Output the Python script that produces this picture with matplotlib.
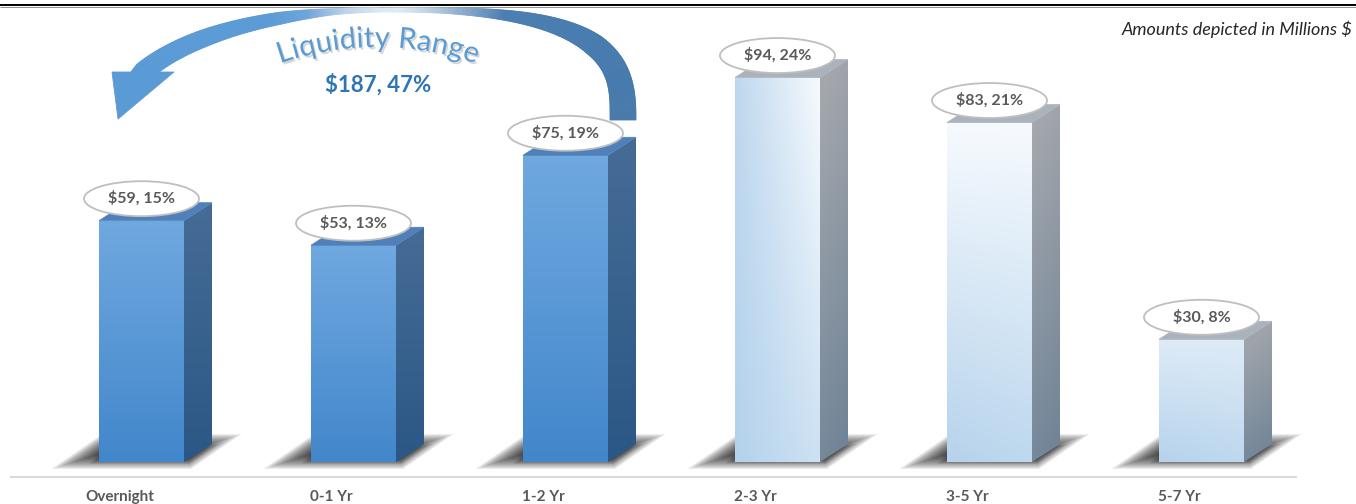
import numpy as np
import matplotlib
matplotlib.use("Agg")
import matplotlib.pyplot as plt
from matplotlib.patches import Polygon, Ellipse
from matplotlib.collections import PolyCollection
from matplotlib.transforms import Affine2D
from matplotlib import patheffects as pe
from matplotlib.textpath import TextToPath
from matplotlib.font_manager import FontProperties

# ---------------- data ----------------
categories = ["Overnight", "0-1 Yr", "1-2 Yr", "2-3 Yr", "3-5 Yr", "5-7 Yr"]
amounts = [59, 53, 75, 94, 83, 30]            # $ millions
shares = [15, 13, 19, 24, 21, 8]              # percent of total
in_liquidity_range = [True, True, True, False, False, False]
liquidity_label = "Liquidity Range"
liquidity_amount = 187
liquidity_share = 47
note = "Amounts depicted in Millions $"

plt.rcParams['font.family'] = ['Lato', 'DejaVu Sans']

W, H, DPI = 1356, 504, 100
fig = plt.figure(figsize=(W / DPI, H / DPI), dpi=DPI)
fig.patch.set_facecolor('white')

CAT_PX = 212.0      # pixels per category
UNIT_PX = 4.09      # pixels per $1M
FIRST_PX = 141.5    # centre of first bar (px)
BASE_PX = 462.0     # baseline (px from top)

ax = fig.add_axes([0, 0, 1, 1])
XLIM = (-FIRST_PX / CAT_PX, (W - FIRST_PX) / CAT_PX)
YLIM = (-(H - BASE_PX) / UNIT_PX, BASE_PX / UNIT_PX)
ax.set_xlim(*XLIM)
ax.set_ylim(*YLIM)
ax.set_autoscale_on(False)
ax.axis('off')


def fx(px):
    return px / CAT_PX


def fy(px):
    return px / UNIT_PX


# pixel transform (origin top-left, y down)
PIX = Affine2D().scale(1 / DPI, -1 / DPI).translate(0, H / DPI) + fig.dpi_scale_trans


def c255(c):
    return tuple(v / 255 for v in c)


def gradient_fill(patch, xs, ys, tl, tr, bl, br, z):
    n = 80
    u = np.linspace(0, 1, n)[None, :, None]
    v = np.linspace(0, 1, n)[:, None, None]
    tl, tr, bl, br = [np.array(c) / 255 for c in (tl, tr, bl, br)]
    img = (1 - v) * ((1 - u) * tl + u * tr) + v * ((1 - u) * bl + u * br)
    im = ax.imshow(img, extent=[min(xs), max(xs), min(ys), max(ys)], origin='upper',
                   aspect='auto', interpolation='bilinear', zorder=z)
    im.set_clip_path(patch)
    return im


def inset_polygon(poly, delta):
    """Offset a convex polygon (pixel coords) inward by delta px."""
    poly = np.asarray(poly, float)
    n = len(poly)
    area = 0.5 * sum(poly[k, 0] * poly[(k + 1) % n, 1] - poly[(k + 1) % n, 0] * poly[k, 1] for k in range(n))
    sgn = 1.0 if area > 0 else -1.0
    normals, offs = [], []
    for k in range(n):
        p, q = poly[k], poly[(k + 1) % n]
        t = q - p
        nrm = sgn * np.array([-t[1], t[0]]) / np.hypot(*t)
        normals.append(nrm)
        offs.append(nrm @ p + delta)
    out = []
    for k in range(n):
        A = np.array([normals[k - 1], normals[k]])
        bvec = np.array([offs[k - 1], offs[k]])
        out.append(np.linalg.solve(A, bvec))
    out = np.array(out)
    a2 = 0.5 * sum(out[k, 0] * out[(k + 1) % n, 1] - out[(k + 1) % n, 0] * out[k, 1] for k in range(n))
    if a2 * area <= 0:
        return None
    return out


def shadow(x0d, x1d, z):
    # geometry in pixel coords (y down), derived from the bar's data position
    x0 = FIRST_PX + x0d * CAT_PX
    x1 = FIRST_PX + x1d * CAT_PX
    yb = BASE_PX
    main = [(x0 - 38, yb + 4), (x1 + 6, yb + 4), (x1 + 48, yb - 25), (x0 + 4, yb - 25)]
    for d in np.arange(-3, 14, 1.0):
        p = inset_polygon(main, d)
        if p is None:
            break
        ax.add_patch(Polygon(p, closed=True, transform=PIX,
                             fc='black', ec='none', alpha=0.075, zorder=z))
    # darker core right behind the bar
    core = [(x0 - 10, yb + 2), (x1 + 6, yb + 2), (x1 + 36, yb - 18), (x0 + 10, yb - 18)]
    for d in np.arange(0, 6, 1.0):
        p = inset_polygon(core, d)
        if p is None:
            break
        ax.add_patch(Polygon(p, closed=True, transform=PIX,
                             fc='black', ec='none', alpha=0.07, zorder=z))


x = np.arange(len(categories))
BW = fx(85)
DX, DY = fx(28), fy(18)
bars = ax.bar(x, amounts, width=BW, color='none', edgecolor='none', zorder=4)

light_fronts = {
    3: ((190, 215, 238), (246, 250, 254), (180, 210, 236), (205, 225, 243)),
    4: ((246, 250, 254), (246, 250, 254), (182, 211, 236), (190, 216, 238)),
    5: ((222, 235, 247), (222, 235, 247), (182, 211, 236), (190, 216, 238)),
}

for i, (rect, liq) in enumerate(zip(bars, in_liquidity_range)):
    xl = rect.get_x()
    xr = xl + rect.get_width()
    top = rect.get_height()
    shadow(xl, xr, 2)
    if liq:
        front = ((112, 168, 224), (112, 168, 224), (66, 135, 203), (66, 135, 203))
        side_c = ((70, 108, 150), (70, 108, 150), (43, 87, 134), (43, 87, 134))
        top_c = (80, 128, 186)
    else:
        front = light_fronts[i]
        side_c = ((168, 171, 175), (160, 164, 170), (118, 136, 154), (110, 130, 150))
        top_c = (170, 178, 188)
    gradient_fill(rect, [xl, xr], [0, top], *front, z=4)
    side = Polygon([(xr, 0), (xr + DX, DY), (xr + DX, top + DY), (xr, top)], closed=True,
                   fc='none', ec='none', zorder=4)
    ax.add_patch(side)
    gradient_fill(side, [xr, xr + DX], [0, top + DY], *side_c, z=4)
    topf = Polygon([(xl, top), (xr, top), (xr + DX, top + DY), (xl + DX, top + DY)], closed=True,
                   fc=c255(top_c), ec=c255(top_c), lw=0.5, zorder=4)
    ax.add_patch(topf)

    # data label bubble
    cyl = top + fy(22)
    ax.add_patch(Ellipse((x[i], cyl), width=fx(115), height=fy(35), fc='white',
                         ec=c255((191, 191, 191)), lw=1.3, zorder=6))
    ax.text(x[i], cyl, f"${amounts[i]}, {shares[i]}%", ha='center', va='center',
            fontsize=11.5, fontweight='bold', color='#595959', zorder=7)

    # category label
    ax.text(x[i] - fx(22), -fy(35), categories[i], ha='center', va='center',
            fontsize=11, fontweight='bold', color='#595959', zorder=7)

# baseline and top border
ax.plot([10, 1297], [477, 477], transform=PIX, color=c255((217, 217, 217)), lw=1.5,
        solid_capstyle='butt', zorder=1)
ax.plot([0, W], [4.8, 4.8], transform=PIX, color='black', lw=1.4, solid_capstyle='butt', zorder=1)
ax.plot([0, W], [6.6, 6.6], transform=PIX, color='#909090', lw=0.7, solid_capstyle='butt', zorder=1)

# note
ax.text(1352, 29, note, transform=PIX, ha='right', va='center', fontsize=13,
        style='italic', color='#262626')

# ---------------- curved arrow ----------------
th = np.linspace(0.0, 2.80, 420)
cxa, cya, b = 380.0, 120.0, 110.0
c, s = np.cos(th), np.sin(th)
xs = np.where(c >= 0, cxa + 243 * np.abs(c) ** (2 / 3), cxa + 263 * c)
ys = np.where(c >= 0, cya - b * np.abs(s) ** (2 / 3), cya - b * s)
wt = np.interp(th, [0, 0.6, 1.1, 1.45, 1.57, 1.75, 1.96, 2.3, 2.69, 2.8],
               [26, 22, 12, 5, 4, 6, 12, 17, 20, 14])
tx, ty = np.gradient(xs), np.gradient(ys)
nn = np.hypot(tx, ty)
nx, ny = -ty / nn, tx / nn
ox, oy = xs + nx * wt / 2, ys + ny * wt / 2
ix, iy = xs - nx * wt / 2, ys - ny * wt / 2
stops_t = [0.0, 1.2, 1.4, 1.55, 1.7, 1.85, 2.0, 2.8]
stops_c = [(72, 122, 172), (74, 126, 177), (150, 180, 210), (225, 235, 245),
           (190, 212, 235), (110, 165, 218), (91, 155, 213), (91, 155, 213)]
cols = np.array([[np.interp(t, stops_t, [sc[k] for sc in stops_c]) for k in range(3)] for t in th]) / 255
quads, qc = [], []
for k in range(len(th) - 1):
    quads.append([(ox[k], oy[k]), (ox[k + 1], oy[k + 1]), (ix[k + 1], iy[k + 1]), (ix[k], iy[k])])
    qc.append(cols[k])
pc = PolyCollection(quads, facecolors=qc, edgecolors=qc, linewidths=0.6, transform=PIX, zorder=5)
ax.add_collection(pc)
ax.add_patch(Polygon([(112, 72), (174, 72), (118, 119)], closed=True, transform=PIX,
                     fc=c255((91, 155, 213)), ec=c255((91, 155, 213)), lw=0.6, zorder=5))

# ---------------- curved "Liquidity Range" ----------------
fp = FontProperties(family=['Lato', 'DejaVu Sans'], size=21)
ttp = TextToPath()


def wpx(txt):
    return ttp.get_text_width_height_descent(txt, fp, ismath=False)[0] * DPI / 72


base_w = wpx("I")
starts = [wpx(liquidity_label[:k] + "I") - base_w for k in range(len(liquidity_label) + 1)]
total = starts[-1]
scale = 200.0 / total
R, CX, CY = 300.0, 378.0, 347.0
for k, ch in enumerate(liquidity_label):
    if ch == ' ':
        continue
    centre = (starts[k] + starts[k + 1]) / 2
    sarc = (centre - total / 2) * scale
    phi = sarc / R
    px = CX + R * np.sin(phi)
    py = CY - R * np.cos(phi)
    ax.text(px, py, ch, transform=PIX, ha='center', va='baseline', rotation=-np.degrees(phi),
            rotation_mode='anchor', fontproperties=fp, color=c255((91, 155, 213)), zorder=8,
            path_effects=[pe.withSimplePatchShadow(offset=(1.2, -1.5), shadow_rgbFace=(0.55, 0.55, 0.55),
                                                   alpha=0.35)])

ax.text(378, 85, f"${liquidity_amount}, {liquidity_share}%", transform=PIX, ha='center', va='center',
        fontsize=16, fontweight='bold', color=c255((46, 117, 182)), zorder=8)

ax.set_xlim(*XLIM)
ax.set_ylim(*YLIM)
fig.savefig("out.png", dpi=DPI, facecolor='white')
